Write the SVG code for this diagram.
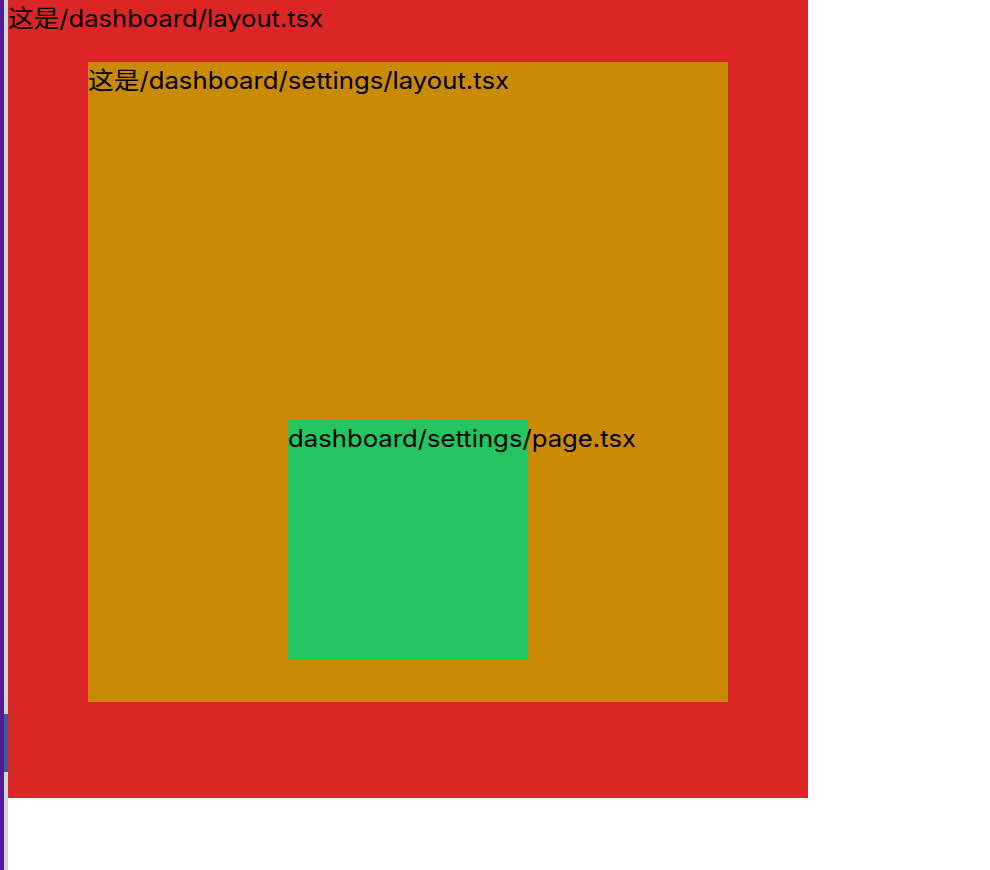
<svg xmlns="http://www.w3.org/2000/svg" width="990" height="870" viewBox="0 0 990 870">
<style>
.t{font-family:Inter,"Noto Sans CJK SC",sans-serif;font-size:24px;fill:#000;font-optical-sizing:none;font-variation-settings:"opsz" 14}
</style>
<rect x="0" y="0" width="990" height="870" fill="#fff"/>
<rect x="0" y="0" width="4" height="870" fill="#4c1d95"/>
<rect x="4" y="0" width="4" height="870" fill="#d4d4d4"/>
<rect x="4" y="714" width="4" height="58" fill="#44558f"/>
<g id="dashboard-layout">
<rect x="8" y="0" width="800" height="798" fill="#dc2626"/>
<text class="t" x="8" y="27" textLength="315" lengthAdjust="spacingAndGlyphs">这是/dashboard/layout.tsx</text>
</g>
<g id="settings-layout">
<rect x="88" y="62" width="640" height="640" fill="#ca8a04"/>
<text class="t" x="88" y="89" textLength="421" lengthAdjust="spacingAndGlyphs">这是/dashboard/settings/layout.tsx</text>
</g>
<g id="settings-page">
<rect x="288" y="420" width="240" height="240" fill="#22c55e"/>
<text class="t" x="288" y="447" textLength="348" lengthAdjust="spacingAndGlyphs">dashboard/settings/page.tsx</text>
</g>
<g id="connectors"/>
</svg>
